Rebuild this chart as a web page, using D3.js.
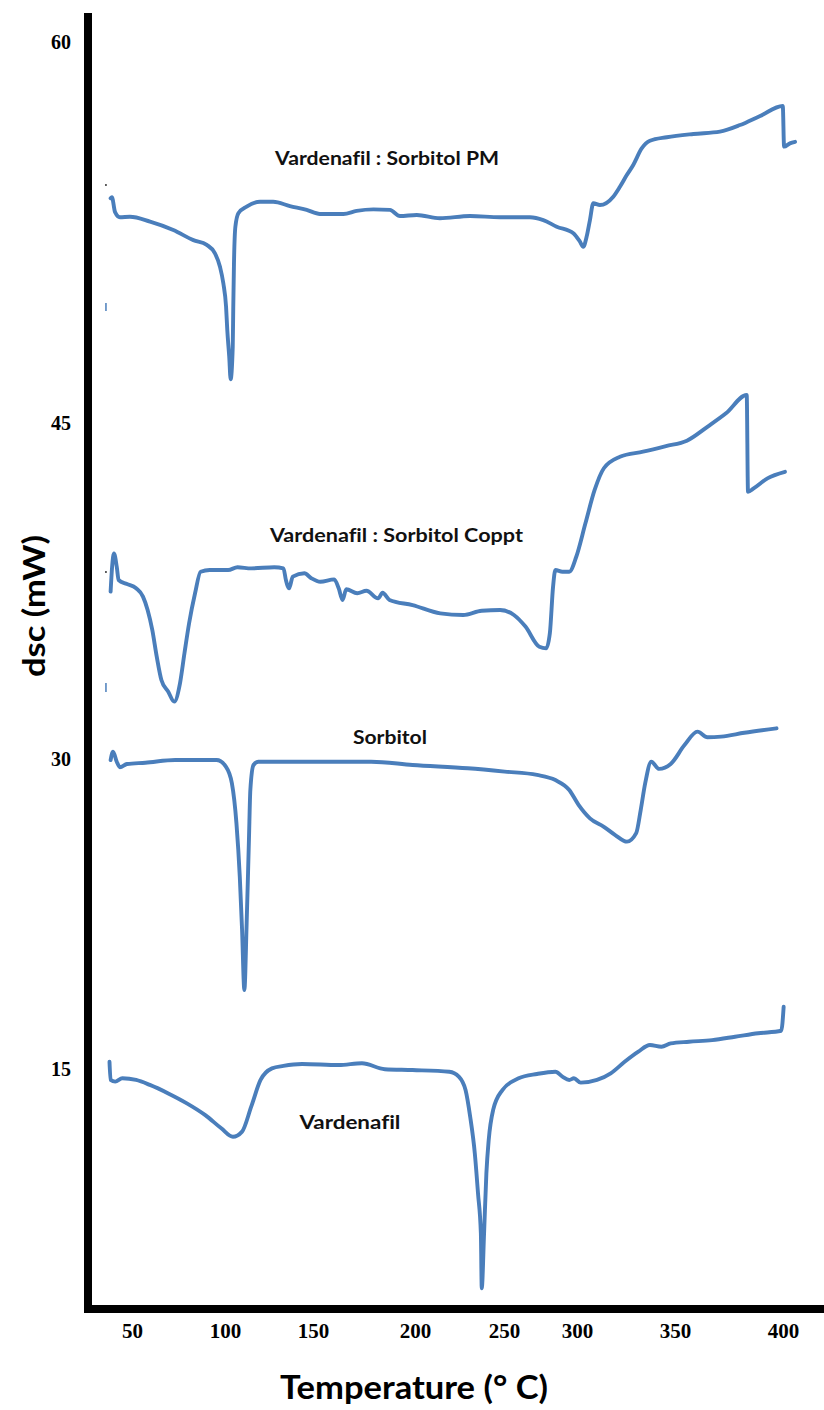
<!DOCTYPE html>
<html>
<head>
<meta charset="utf-8">
<script src="https://cdn.jsdelivr.net/npm/d3@7"></script>
<style>
  html, body { margin: 0; padding: 0; background: #fff; }
  svg { display: block; }
  text { font-variant-ligatures: none; }
</style>
</head>
<body>
<svg id="chart" width="824" height="1410"></svg>
<script>
// ---- tick labels ----
const xTicks = [50, 100, 150, 200, 250, 300, 350, 400];
const yTicks = [15, 30, 45, 60];

// ---- DSC thermograms: temperature (°C) and heat flow (mW) ----
const pmTemp = [38.5,39.2,40.9,43.5,48.9,59.7,72.2,83.0,90.2,94.6,97.3,99.1,100.6,101.3,102.4,103.2,104.4,104.7,105.1,105.9,107.6,112.3,119.9,127.4,136.9,146.4,153.4,164.9,171.4,179.6,187.7,192.6,201.0,214.0,230.9,247.8,267.8,276.9,286.1,297.5,301.5,303.2,304.9,306.6,308.3,311.7,318.5,321.9,325.4,328.7,333.0,337.2,345.8,358.5,370.8,380.1,389.4,399.9,400.5,403.2,405.6];
const pmDsc = [53.85,53.89,53.3,53.1,53.12,52.93,52.6,52.2,52.01,51.68,51.15,50.5,49.58,48.66,47.61,46.72,48.0,49.58,51.29,52.73,53.26,53.52,53.71,53.71,53.54,53.39,53.23,53.23,53.35,53.41,53.39,53.15,53.19,53.06,53.15,53.1,53.1,52.99,52.73,52.47,52.14,51.94,52.33,52.99,53.65,53.58,53.91,54.3,54.76,55.16,55.81,56.11,56.25,56.38,56.47,56.73,57.09,57.48,55.88,56.01,56.07];

const copTemp = [38.5,39.3,40.3,41.8,42.8,47.3,52.2,55.9,58.4,60.9,63.3,65.8,69.5,72.7,75.8,78.2,80.7,83.9,86.9,91.8,101.8,107.1,114.9,128.0,133.2,134.6,136.4,138.5,145.1,149.0,153.6,160.4,162.6,164.5,166.3,171.7,176.2,181.9,184.1,187.5,198.8,214.2,227.1,237.5,247.8,256.8,264.7,274.2,278.9,281.4,283.6,285.2,290.0,294.7,299.5,304.3,309.0,313.7,321.9,333.7,345.4,355.5,365.0,373.6,383.2,383.8,386.4,392.8,400.9];
const copDsc = [37.47,38.58,39.18,38.58,37.99,37.81,37.62,37.25,36.65,35.76,34.57,33.53,33.0,32.56,33.38,34.72,36.06,37.4,38.36,38.44,38.44,38.56,38.51,38.56,38.51,37.99,37.62,38.14,38.29,38.07,37.91,38.02,37.62,37.1,37.58,37.4,37.51,37.17,37.42,37.1,36.87,36.5,36.43,36.62,36.65,36.43,35.91,35.01,34.94,35.61,37.69,38.44,38.36,38.36,39.03,40.52,42.01,42.98,43.49,43.72,43.97,44.21,44.83,45.38,46.1,41.93,42.08,42.53,42.82];

const sorTemp = [38.5,39.8,41.8,43.5,47.3,57.2,73.3,95.5,100.5,103.9,106.5,108.4,109.7,111.0,112.3,113.6,114.4,116.2,118.9,141.1,178.5,198.8,229.7,250.5,272.6,285.2,294.7,300.8,306.6,313.7,319.5,325.5,330.2,332.5,334.8,337.9,341.9,347.8,354.4,360.4,365.0,371.4,382.1,397.0];
const sorDsc = [29.95,30.33,29.87,29.6,29.76,29.82,29.95,29.95,29.63,28.83,26.89,24.31,21.73,18.82,22.05,26.08,28.5,29.71,29.87,29.87,29.87,29.71,29.55,29.39,29.23,28.98,28.5,27.78,27.13,26.72,26.32,26.0,26.41,27.53,28.83,29.87,29.52,29.76,30.62,31.22,30.97,31.0,31.17,31.37];

const varTemp = [37.9,38.5,41.0,44.8,52.2,59.6,69.5,79.5,89.4,98.0,104.5,109.7,114.9,120.2,126.7,133.2,143.8,162.6,174.0,185.2,198.8,219.3,224.6,228.4,231.0,233.6,235.4,237.0,237.5,238.8,240.1,241.4,243.9,249.1,260.0,272.6,285.2,290.0,294.7,297.9,301.9,310.2,317.2,324.3,331.3,337.2,343.1,347.8,356.5,367.2,377.8,388.5,399.2,400.3];
const varDsc = [15.35,14.47,14.39,14.55,14.47,14.23,13.82,13.34,12.77,12.13,11.72,11.97,13.18,14.47,15.03,15.15,15.24,15.19,15.28,14.99,14.95,14.87,14.63,13.98,12.69,10.92,8.98,7.05,4.39,7.05,9.95,11.56,13.02,13.98,14.55,14.76,14.87,14.63,14.47,14.55,14.34,14.47,14.79,15.35,15.84,16.16,16.08,16.24,16.32,16.4,16.56,16.73,16.85,18.01];

// ---- curve captions (anchored in data units) ----
const captionText = ["Vardenafil : Sorbitol PM", "Vardenafil : Sorbitol Coppt", "Sorbitol", "Vardenafil"];
const captionTemp = [186.3, 190.9, 187.7, 168.1];
const captionDsc = [55.4, 40.0, 30.98, 12.41];

// small stray baseline marks near the left edge
const markTemp = [36.0, 36.0];
const markDsc = [[49.41, 49.72], [32.99, 33.39]];
const dotDsc = [54.37, 38.35];

// ---- layout ----
const W = 824, H = 1410;
const axisX = 88, axisY = 1309, axisTop = 13, axisW = 8;
const xTickPos = [132, 225, 313, 415, 504, 577, 675, 783];
const yTickPos = [1069, 759, 423, 42];
const lineColor = "#4a7ebb";

const svg = d3.select("#chart");

// the printed temperature and heat-flow ticks are not evenly spaced,
// so both scales are piecewise linear through the tick positions
const x = d3.scaleLinear().domain(xTicks).range(xTickPos);
const y = d3.scaleLinear().domain(yTicks).range(yTickPos);

// thermograms
const series = [
  { t: pmTemp, v: pmDsc },
  { t: copTemp, v: copDsc },
  { t: sorTemp, v: sorDsc },
  { t: varTemp, v: varDsc }
];
const line = d3.line()
  .x(d => x(d[0]))
  .y(d => y(d[1]))
  .curve(d3.curveMonotoneX);
svg.append("g").selectAll("path")
  .data(series)
  .join("path")
  .attr("d", s => line(d3.zip(s.t, s.v)))
  .attr("fill", "none")
  .attr("stroke", lineColor)
  .attr("stroke-width", 3.9)
  .attr("stroke-linejoin", "round")
  .attr("stroke-linecap", "round");

// stray marks
svg.append("g").selectAll("line")
  .data(markDsc)
  .join("line")
  .attr("x1", (d, i) => x(markTemp[i])).attr("x2", (d, i) => x(markTemp[i]))
  .attr("y1", d => y(d[0])).attr("y2", d => y(d[1]))
  .attr("stroke", lineColor).attr("stroke-width", 1.5);
svg.append("g").selectAll("circle")
  .data(dotDsc)
  .join("circle")
  .attr("cx", x(36.0)).attr("cy", d => y(d)).attr("r", 1)
  .attr("fill", "#333");

// captions
const captionWidth = [224, 253, 74, 101];
svg.append("g").selectAll("text")
  .data(captionText)
  .join("text")
  .attr("x", (d, i) => x(captionTemp[i]))
  .attr("y", (d, i) => y(captionDsc[i]))
  .attr("dy", "0.35em")
  .attr("text-anchor", "middle")
  .attr("font-family", "Lato, 'Open Sans', sans-serif")
  .attr("font-weight", "bold")
  .attr("font-size", 19)
  .attr("textLength", (d, i) => captionWidth[i])
  .attr("lengthAdjust", "spacingAndGlyphs")
  .attr("fill", "#111")
  .text(d => d);

// axes
const xAxis = d3.axisBottom(x).tickValues(xTicks).tickSize(0).tickPadding(10).tickFormat(d3.format("d"));
const gx = svg.append("g").attr("transform", `translate(0,${axisY + axisW / 2})`).call(xAxis);
gx.select(".domain").remove();
gx.selectAll("text")
  .attr("font-family", "'Liberation Serif', 'Times New Roman', serif")
  .attr("font-weight", "bold")
  .attr("font-size", 21)
  .attr("fill", "#000");

const yAxis = d3.axisLeft(y).tickValues(yTicks).tickSize(0).tickPadding(17).tickFormat(d3.format("d"));
const gy = svg.append("g").attr("transform", `translate(${axisX},0)`).call(yAxis);
gy.select(".domain").remove();
gy.selectAll("text")
  .attr("font-family", "'Liberation Serif', 'Times New Roman', serif")
  .attr("font-weight", "bold")
  .attr("font-size", 20)
  .attr("fill", "#000");

// heavy axis frame lines
svg.append("line")
  .attr("x1", axisX).attr("x2", axisX)
  .attr("y1", axisTop).attr("y2", axisY + axisW / 2)
  .attr("stroke", "#000").attr("stroke-width", axisW);
svg.append("line")
  .attr("x1", axisX - axisW / 2).attr("x2", W)
  .attr("y1", axisY).attr("y2", axisY)
  .attr("stroke", "#000").attr("stroke-width", axisW);

// axis titles
svg.append("text")
  .attr("x", 414).attr("y", 1388)
  .attr("dy", "0.35em")
  .attr("text-anchor", "middle")
  .attr("font-family", "Lato, 'Open Sans', sans-serif")
  .attr("font-weight", "bold")
  .attr("font-size", 32)
  .attr("textLength", 268)
  .attr("lengthAdjust", "spacingAndGlyphs")
  .attr("fill", "#000")
  .text("Temperature (° C)");

svg.append("text")
  .attr("transform", "translate(34,606) rotate(-90)")
  .attr("dy", "0.35em")
  .attr("text-anchor", "middle")
  .attr("font-family", "Lato, 'Open Sans', sans-serif")
  .attr("font-weight", "bold")
  .attr("font-size", 30)
  .attr("textLength", 142)
  .attr("lengthAdjust", "spacingAndGlyphs")
  .attr("fill", "#000")
  .text("dsc (mW)");
</script>
</body>
</html>
